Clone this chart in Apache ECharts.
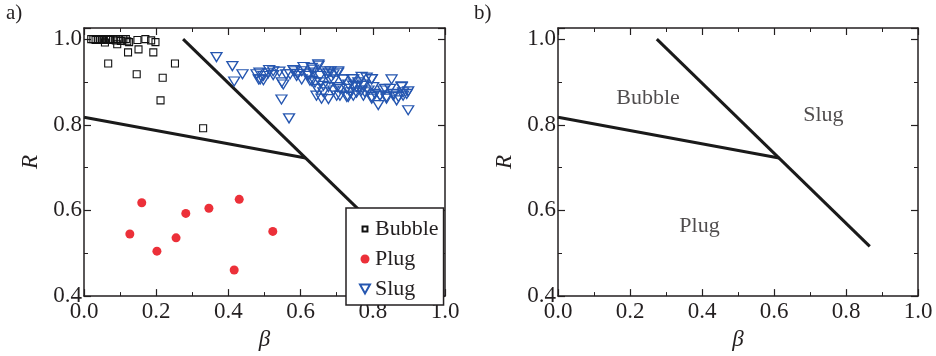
<!DOCTYPE html>
<html>
<head>
<meta charset="utf-8">
<script src="https://cdn.jsdelivr.net/npm/echarts@6/dist/echarts.min.js"></script>
<style>
  html, body { margin: 0; padding: 0; background: #fff; }
  #chart { width: 936px; height: 356px; }
</style>
</head>
<body>
<div id="chart"></div>
<script>
// measured points, [beta, R]
const bubblePoints = [
  [0.020, 1.000], [0.026, 1.000], [0.032, 0.998], [0.038, 1.000], [0.044, 1.000],
  [0.050, 0.998], [0.055, 1.000], [0.058, 0.992], [0.061, 1.000], [0.067, 1.000],
  [0.072, 0.998], [0.081, 1.000], [0.088, 0.997], [0.092, 0.988], [0.095, 1.000],
  [0.102, 0.996], [0.109, 1.000], [0.116, 1.000], [0.120, 0.995], [0.125, 0.993],
  [0.148, 0.998], [0.170, 1.000], [0.186, 0.997], [0.198, 0.993], [0.122, 0.969],
  [0.151, 0.976], [0.192, 0.969], [0.067, 0.943], [0.252, 0.943], [0.146, 0.918],
  [0.218, 0.910], [0.212, 0.857], [0.330, 0.792]
];
const plugPoints = [
  [0.160, 0.618], [0.127, 0.545], [0.202, 0.505], [0.255, 0.536], [0.282, 0.593],
  [0.346, 0.605], [0.430, 0.626], [0.416, 0.461], [0.523, 0.551]
];
const slugPoints = [
  [0.367, 0.958], [0.411, 0.937], [0.439, 0.918], [0.416, 0.901], [0.486, 0.922],
  [0.484, 0.906], [0.497, 0.904], [0.513, 0.928], [0.524, 0.916], [0.541, 0.924],
  [0.548, 0.899], [0.547, 0.859], [0.560, 0.918], [0.568, 0.815], [0.583, 0.925],
  [0.591, 0.919], [0.608, 0.935], [0.603, 0.906], [0.621, 0.914], [0.631, 0.902],
  [0.635, 0.922], [0.650, 0.938], [0.646, 0.884], [0.654, 0.899], [0.663, 0.876],
  [0.677, 0.860], [0.672, 0.918], [0.683, 0.925], [0.691, 0.903], [0.704, 0.922],
  [0.702, 0.888], [0.709, 0.868], [0.718, 0.906], [0.728, 0.884], [0.732, 0.865],
  [0.742, 0.907], [0.746, 0.891], [0.755, 0.875], [0.769, 0.912], [0.772, 0.894],
  [0.778, 0.876], [0.797, 0.907], [0.801, 0.888], [0.797, 0.865], [0.815, 0.846],
  [0.820, 0.868], [0.834, 0.884], [0.838, 0.865], [0.852, 0.906], [0.857, 0.872],
  [0.866, 0.857], [0.880, 0.890], [0.884, 0.868], [0.898, 0.878], [0.898, 0.834],
  [0.649, 0.941], [0.603, 0.925], [0.621, 0.918], [0.635, 0.929], [0.654, 0.914],
  [0.668, 0.925], [0.681, 0.906], [0.691, 0.918], [0.704, 0.925], [0.718, 0.906],
  [0.732, 0.894], [0.746, 0.906], [0.760, 0.899], [0.774, 0.891], [0.783, 0.910],
  [0.797, 0.906], [0.644, 0.868], [0.658, 0.861], [0.700, 0.868], [0.728, 0.865],
  [0.746, 0.868], [0.774, 0.868], [0.797, 0.861], [0.820, 0.868], [0.838, 0.861],
  [0.857, 0.868], [0.871, 0.865], [0.884, 0.876], [0.894, 0.872], [0.880, 0.888],
  [0.829, 0.880], [0.848, 0.884], [0.552, 0.894], [0.524, 0.925], [0.571, 0.918],
  [0.580, 0.928], [0.589, 0.914], [0.488, 0.906], [0.497, 0.914], [0.510, 0.920],
  [0.478, 0.918], [0.626, 0.903], [0.640, 0.899], [0.663, 0.891], [0.677, 0.888],
  [0.691, 0.880], [0.709, 0.884], [0.737, 0.876], [0.755, 0.888], [0.769, 0.880],
  [0.788, 0.880], [0.806, 0.872], [0.631, 0.933], [0.677, 0.922]
];
// regime boundaries
const boundaryLow = [[0, 0.8176], [0.614, 0.7225]];
const boundaryHigh = [[0.2745, 1.0], [0.866, 0.516]];
const regionLabels = [[0.25, 0.862, 'Bubble'], [0.737, 0.823, 'Slug'], [0.393, 0.563, 'Plug']];
const xTicks = { min: 0, max: 1, step: 0.2 };
const yTicks = { min: 0.4, max: 1.026, step: 0.2 };

const serif = "'Liberation Serif', 'Times New Roman', serif";
const ink = '#231f20';
const slugBlue = '#2556b0';
const plugRed = '#ec3039';
const chart = echarts.init(document.getElementById('chart'));

function xAxisFor(grid, pos) {
  const main = pos === 'bottom';
  return {
    type: 'value', gridIndex: grid, position: pos,
    min: xTicks.min, max: xTicks.max, interval: xTicks.step,
    name: main ? 'β' : '', nameLocation: 'middle', nameGap: 26,
    nameTextStyle: { fontFamily: serif, fontStyle: 'italic', fontSize: 23, color: ink },
    axisLine: { show: true, onZero: false, lineStyle: { color: ink, width: 1.5 } },
    axisTick: { show: true, inside: true, length: 7, lineStyle: { color: ink, width: 1.2 } },
    minorTick: { show: true, splitNumber: 2, length: 4, lineStyle: { color: ink, width: 1 } },
    axisLabel: { show: main, margin: 4, fontFamily: serif, fontSize: 23, color: ink,
      formatter: v => v.toFixed(1) },
    splitLine: { show: false }
  };
}
function yAxisFor(grid, pos) {
  const main = pos === 'left';
  return {
    type: 'value', gridIndex: grid, position: pos,
    min: yTicks.min, max: yTicks.max, interval: yTicks.step,
    name: main ? 'R' : '', nameLocation: 'middle', nameGap: 42,
    nameTextStyle: { fontFamily: serif, fontStyle: 'italic', fontSize: 23, color: ink },
    axisLine: { show: true, onZero: false, lineStyle: { color: ink, width: 1.5 } },
    axisTick: { show: true, inside: true, length: 7, lineStyle: { color: ink, width: 1.2 } },
    minorTick: { show: true, splitNumber: 2, length: 4, lineStyle: { color: ink, width: 1 } },
    axisLabel: { show: main, margin: 2, showMaxLabel: false, fontFamily: serif, fontSize: 23, color: ink,
      formatter: v => v.toFixed(1) },
    splitLine: { show: false }
  };
}

const boundaryStyle = { color: '#1a1a1a', width: 3 };

chart.setOption({
  animation: false,
  backgroundColor: '#fff',
  textStyle: { fontFamily: serif },
  graphic: [
    { type: 'text', left: 6, top: 3, style: { text: 'a)', font: "21px 'Liberation Serif'", fill: ink } },
    { type: 'text', left: 474, top: 3, style: { text: 'b)', font: "21px 'Liberation Serif'", fill: ink } }
  ],
  grid: [
    { left: 84, top: 28, width: 361, height: 275 },
    { left: 558, top: 28, width: 360, height: 275 }
  ],
  xAxis: [xAxisFor(0, 'bottom'), xAxisFor(0, 'top'), xAxisFor(1, 'bottom'), xAxisFor(1, 'top')],
  yAxis: [yAxisFor(0, 'left'), yAxisFor(0, 'right'), yAxisFor(1, 'left'), yAxisFor(1, 'right')],
  legend: {
    data: [
      { name: 'Bubble', icon: 'path://M0,0M2.5,2.5L8.5,2.5L8.5,8.5L2.5,8.5ZM11,11' },
      { name: 'Plug', icon: 'circle' },
      { name: 'Slug', icon: 'path://M0,0L10,0L5,9Z' }
    ],
    orient: 'vertical', left: 346, top: 208,
    padding: [10, 5, 5, 13], itemGap: 8, itemWidth: 10, itemHeight: 9,
    backgroundColor: '#fff', borderColor: ink, borderWidth: 1.5,
    textStyle: { fontFamily: serif, fontSize: 22, color: ink }
  },
  series: [
    { name: 'boundary', type: 'line', xAxisIndex: 0, yAxisIndex: 0, data: boundaryLow,
      symbol: 'none', lineStyle: boundaryStyle, z: 1 },
    { name: 'boundary', type: 'line', xAxisIndex: 0, yAxisIndex: 0, data: boundaryHigh,
      symbol: 'none', lineStyle: boundaryStyle, z: 1 },
    { name: 'Bubble', type: 'scatter', xAxisIndex: 0, yAxisIndex: 0, data: bubblePoints,
      symbol: 'rect', symbolSize: 7,
      itemStyle: { color: 'rgba(255,255,255,0)', borderColor: '#111', borderWidth: 1.1, opacity: 1 } },
    { name: 'Plug', type: 'scatter', xAxisIndex: 0, yAxisIndex: 0, data: plugPoints,
      symbol: 'circle', symbolSize: 9, itemStyle: { color: plugRed, opacity: 1 } },
    { name: 'Slug', type: 'scatter', xAxisIndex: 0, yAxisIndex: 0, data: slugPoints,
      symbol: 'triangle', symbolRotate: 180, symbolSize: [11, 9],
      itemStyle: { color: 'rgba(255,255,255,0)', borderColor: slugBlue, borderWidth: 1.3, opacity: 1 } },
    { name: 'boundaryB', type: 'line', xAxisIndex: 2, yAxisIndex: 2, data: boundaryLow,
      symbol: 'none', lineStyle: boundaryStyle },
    { name: 'boundaryB', type: 'line', xAxisIndex: 2, yAxisIndex: 2, data: boundaryHigh,
      symbol: 'none', lineStyle: boundaryStyle },
    { name: 'regions', type: 'scatter', xAxisIndex: 2, yAxisIndex: 2, data: regionLabels,
      symbolSize: 0,
      label: { show: true, position: 'inside', formatter: p => p.data[2],
        fontFamily: serif, fontSize: 22, color: ink } }
  ]
});
</script>
</body>
</html>
